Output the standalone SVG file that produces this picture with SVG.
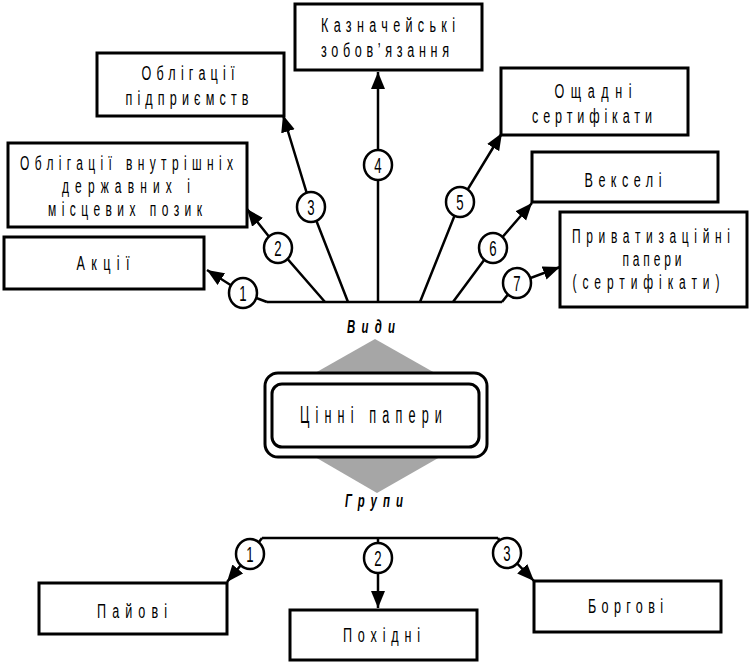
<svg xmlns="http://www.w3.org/2000/svg" width="751" height="665" viewBox="0 0 751 665">
<style>
.box{fill:#fff;stroke:#000;stroke-width:3}
.con{fill:none;stroke:#000;stroke-width:2.5;marker-end:url(#ah)}
.line{fill:none;stroke:#000;stroke-width:2.5}
.num{fill:#fff;stroke:#000;stroke-width:2.5}
.t{font-family:"Liberation Sans",Arial,sans-serif;font-size:21px;fill:#000}
.s{font-size:20px}
.n{font-family:"Liberation Sans",Arial,sans-serif;font-size:22px;fill:#000;text-anchor:middle}
.it{font-family:"Liberation Sans",Arial,sans-serif;font-size:19px;font-style:italic;font-weight:bold;fill:#000}
</style>
<defs>
<marker id="ah" markerUnits="userSpaceOnUse" markerWidth="18" markerHeight="15" refX="17" refY="7" orient="auto">
<path d="M0,0 L17,7 L0,14 z" fill="#000"/>
</marker>
</defs>
<rect width="751" height="665" fill="#fff"/>

<g id="connectors">
<path class="line" d="M267,302 H502"/>
<polyline class="con" points="267,302 243,293 207,270"/>
<polyline class="con" points="325,302 278,248 247,209"/>
<polyline class="con" points="348,302 311,207 283,115"/>
<polyline class="con" points="378,302 378,165 378,72"/>
<polyline class="con" points="420,302 460,202 502,133"/>
<polyline class="con" points="453,302 493,248 532,203"/>
<polyline class="con" points="502,302 517,283 560,267"/>
<path class="line" d="M262,538 H498"/>
<polyline class="con" points="262,538 250,554 227,582"/>
<polyline class="con" points="378,538 378,558 378,608"/>
<polyline class="con" points="498,538 507,553 534,581"/>
<g id="badges">
<ellipse class="num" cx="243" cy="293" rx="14" ry="15"/>
<ellipse class="num" cx="278" cy="248" rx="14" ry="15"/>
<ellipse class="num" cx="311" cy="207" rx="14" ry="15"/>
<ellipse class="num" cx="378" cy="165" rx="14" ry="15"/>
<ellipse class="num" cx="460" cy="202" rx="14" ry="15"/>
<ellipse class="num" cx="493" cy="248" rx="14" ry="15"/>
<ellipse class="num" cx="517" cy="283" rx="14" ry="15"/>
<ellipse class="num" cx="250" cy="554" rx="14" ry="15"/>
<ellipse class="num" cx="378" cy="558" rx="14" ry="15"/>
<ellipse class="num" cx="507" cy="553" rx="14" ry="15"/>
<text class="n" transform="translate(243,301) scale(0.6,1)">1</text>
<text class="n" transform="translate(278,256) scale(0.6,1)">2</text>
<text class="n" transform="translate(311,215) scale(0.6,1)">3</text>
<text class="n" transform="translate(378,173) scale(0.6,1)">4</text>
<text class="n" transform="translate(460,210) scale(0.6,1)">5</text>
<text class="n" transform="translate(493,256) scale(0.6,1)">6</text>
<text class="n" transform="translate(517,291) scale(0.6,1)">7</text>
<text class="n" transform="translate(250,562) scale(0.6,1)">1</text>
<text class="n" transform="translate(378,566) scale(0.6,1)">2</text>
<text class="n" transform="translate(507,561) scale(0.6,1)">3</text>
</g>
</g>

<g id="center">
<polygon points="375,339 435,373 440,457 377,493 315,457 315,373" fill="#a6a6a6"/>
<rect x="265" y="373" width="222" height="84" rx="13" fill="#fff" stroke="#000" stroke-width="3"/>
<rect x="272" y="384" width="207" height="63" rx="10" fill="#fff" stroke="#000" stroke-width="3"/>
<text class="t" style="font-size:23px" transform="translate(300,423) scale(0.55,1)" textLength="258" lengthAdjust="spacing">Цінні папери</text>
<text class="it" transform="translate(347,333) scale(0.6,1)" textLength="80" lengthAdjust="spacing">Види</text>
<text class="it" transform="translate(345,507) scale(0.6,1)" textLength="96.7" lengthAdjust="spacing">Групи</text>
</g>

<g id="n-kazn">
<rect class="box" x="295" y="4" width="187" height="66"/>
<text class="t" transform="translate(321,32) scale(0.6,1)" textLength="223.3" lengthAdjust="spacing">Казначейські</text>
<text class="t" transform="translate(321,57) scale(0.6,1)" textLength="213.3" lengthAdjust="spacing">зобов’язання</text>
</g>
<g id="n-obl-pidpr">
<rect class="box" x="97" y="53" width="187" height="63"/>
<text class="t" transform="translate(141.5,80) scale(0.6,1)" textLength="155" lengthAdjust="spacing">Облігації</text>
<text class="t" transform="translate(125.5,105) scale(0.6,1)" textLength="205" lengthAdjust="spacing">підприємств</text>
</g>
<g id="n-oshch">
<rect class="box" x="501" y="68" width="187" height="67"/>
<text class="t" transform="translate(554.5,98) scale(0.6,1)" textLength="128.3" lengthAdjust="spacing">Ощадні</text>
<text class="t" transform="translate(532,123) scale(0.6,1)" textLength="200" lengthAdjust="spacing">сертифікати</text>
</g>
<g id="n-obl-derzh">
<rect class="box" x="8" y="143" width="239" height="84"/>
<text class="t s" transform="translate(20,170) scale(0.6,1)" textLength="355" lengthAdjust="spacing">Облігації внутрішніх</text>
<text class="t s" transform="translate(62,193) scale(0.6,1)" textLength="213.3" lengthAdjust="spacing">державних і</text>
<text class="t s" transform="translate(48,216) scale(0.6,1)" textLength="256.7" lengthAdjust="spacing">місцевих позик</text>
</g>
<g id="n-veks">
<rect class="box" x="532" y="152" width="186" height="50"/>
<text class="t" transform="translate(584.5,187) scale(0.6,1)" textLength="128.3" lengthAdjust="spacing">Векселі</text>
</g>
<g id="n-priv">
<rect class="box" x="560" y="212" width="187" height="95"/>
<text class="t s" transform="translate(572,243) scale(0.6,1)" textLength="263.3" lengthAdjust="spacing">Приватизаційні</text>
<text class="t s" transform="translate(622.5,266) scale(0.6,1)" textLength="98.3" lengthAdjust="spacing">папери</text>
<text class="t s" transform="translate(572.5,289) scale(0.6,1)" textLength="245" lengthAdjust="spacing">(сертифікати)</text>
</g>
<g id="n-akcii">
<rect class="box" x="4" y="237" width="200" height="52"/>
<text class="t" transform="translate(76.5,270) scale(0.6,1)" textLength="88.3" lengthAdjust="spacing">Акції</text>
</g>
<g id="n-paiovi">
<rect class="box" x="39" y="583" width="188" height="51"/>
<text class="t" transform="translate(97,618) scale(0.6,1)" textLength="116.7" lengthAdjust="spacing">Пайові</text>
</g>
<g id="n-pokhidni">
<rect class="box" x="290" y="610" width="187" height="50"/>
<text class="t" transform="translate(343,642) scale(0.6,1)" textLength="128.3" lengthAdjust="spacing">Похідні</text>
</g>
<g id="n-borgovi">
<rect class="box" x="534" y="581" width="187" height="51"/>
<text class="t" transform="translate(588,613) scale(0.6,1)" textLength="125" lengthAdjust="spacing">Боргові</text>
</g>
</svg>
